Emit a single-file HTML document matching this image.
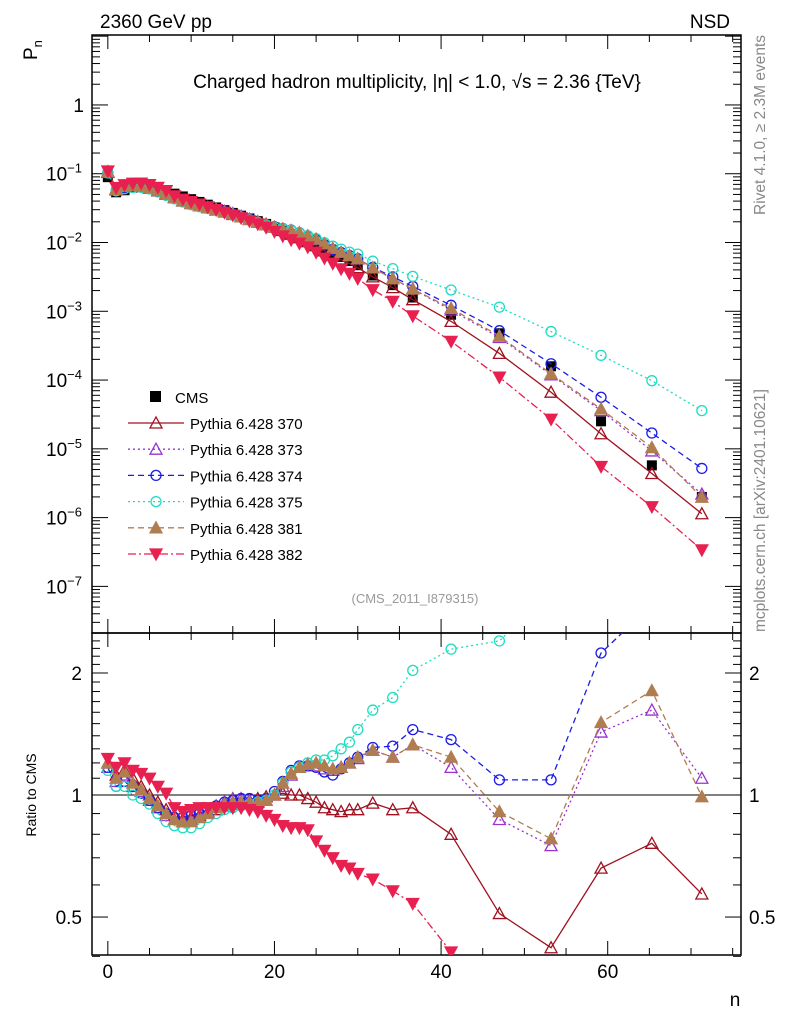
<!DOCTYPE html>
<html><head><meta charset="utf-8"><style>
html,body{margin:0;padding:0;background:#fff;overflow:hidden;width:786px;height:1024px}
svg{display:block}
svg text{font-family:"Liberation Sans",sans-serif}
</style></head><body>
<svg id="c" width="786" height="1024" xmlns="http://www.w3.org/2000/svg">
<text x="100" y="28" font-size="19">2360 GeV pp</text>
<text x="730" y="28" font-size="19" text-anchor="end">NSD</text>
<text transform="translate(37,60) rotate(-90)" font-size="19">P<tspan font-size="13" dy="5">n</tspan></text>
<text x="417" y="88" font-size="19" text-anchor="middle">Charged hadron multiplicity, |η| &lt; 1.0, √s = 2.36 {TeV}</text>
<text transform="translate(765,35) rotate(-90)" font-size="15.5" fill="#888" text-anchor="end">Rivet 4.1.0, ≥ 2.3M events</text>
<text transform="translate(765,632) rotate(-90)" font-size="15.5" fill="#888">mcplots.cern.ch [arXiv:2401.10621]</text>
<text x="415" y="603" font-size="13" fill="#999" text-anchor="middle">(CMS_2011_I879315)</text>
<text transform="translate(36,795) rotate(-90)" font-size="14" text-anchor="middle">Ratio to CMS</text>
<text x="735" y="1006" font-size="19" text-anchor="middle">n</text>
<g id="main"></g>
</svg>
<script>
const nVals=[0,1,2,3,4,5,6,7,8,9,10,11,12,13,14,15,16,17,18,19,20,21,22,23,24,25,26,27,28,29,30,31.8,34.2,36.6,41.2,47,53.2,59.2,65.3,71.3];
const cmsLog=[-1.05,-1.27,-1.24,-1.2,-1.19,-1.2,-1.22,-1.25,-1.29,-1.33,-1.37,-1.41,-1.45,-1.49,-1.53,-1.57,-1.61,-1.65,-1.69,-1.73,-1.78,-1.83,-1.88,-1.93,-1.98,-2.03,-2.09,-2.15,-2.21,-2.27,-2.33,-2.48,-2.62,-2.8,-3.05,-3.32,-3.8,-4.6,-5.24,-5.7];
const r370=[1.2,1.12,1.15,1.1,1.05,1.0,0.96,0.92,0.89,0.87,0.88,0.89,0.91,0.92,0.94,0.95,0.96,0.97,0.98,0.99,1.0,1.01,1.0,1.0,0.98,0.96,0.93,0.92,0.91,0.92,0.92,0.955,0.92,0.93,0.8,0.51,0.42,0.66,0.76,0.57];
const r373=[1.17,1.08,1.12,1.05,1.02,0.97,0.93,0.89,0.87,0.86,0.87,0.88,0.91,0.94,0.96,0.98,0.98,0.97,0.96,0.97,1.0,1.05,1.12,1.17,1.19,1.18,1.16,1.15,1.17,1.2,1.23,1.29,1.24,1.33,1.17,0.87,0.75,1.43,1.62,1.1];
const r374=[1.17,1.05,1.08,1.05,1.01,0.97,0.93,0.9,0.88,0.88,0.89,0.9,0.92,0.94,0.96,0.97,0.98,0.98,0.97,0.98,1.02,1.08,1.15,1.18,1.18,1.17,1.14,1.12,1.16,1.2,1.24,1.31,1.32,1.45,1.37,1.09,1.09,2.24,2.95,2.6];
const r375=[1.15,1.05,1.05,1.0,0.98,0.95,0.9,0.86,0.84,0.83,0.83,0.85,0.88,0.9,0.92,0.93,0.94,0.95,0.96,0.97,1.0,1.07,1.14,1.17,1.2,1.22,1.22,1.25,1.3,1.35,1.45,1.62,1.74,2.03,2.29,2.4,3.2,9.1,17,18];
const r381=[1.2,1.1,1.14,1.07,1.03,0.98,0.94,0.9,0.87,0.86,0.86,0.88,0.9,0.93,0.95,0.96,0.96,0.96,0.96,0.97,1.0,1.07,1.13,1.17,1.19,1.2,1.18,1.16,1.17,1.2,1.24,1.29,1.24,1.33,1.24,0.91,0.78,1.51,1.81,0.99];
const r382=[1.23,1.17,1.2,1.15,1.13,1.1,1.05,1.01,0.93,0.91,0.92,0.93,0.93,0.93,0.93,0.93,0.93,0.92,0.91,0.89,0.87,0.84,0.83,0.83,0.82,0.77,0.73,0.7,0.67,0.66,0.64,0.62,0.58,0.54,0.41,0.23,0.17,0.22,0.25,0.17];
const seriesNames=["Pythia 6.428 370","Pythia 6.428 373","Pythia 6.428 374","Pythia 6.428 375","Pythia 6.428 381","Pythia 6.428 382"];
const yTickExp=[-7,-6,-5,-4,-3,-2,-1,0];
const xTicks=[0,20,40,60];
const rTicks=[0.5,1,2];

const NS="http://www.w3.org/2000/svg";
const g=document.getElementById('main');
const L=92,R=741,T=35,MB=633,RB=955;
const X0=-1.9,X1=76;
const LT=Math.log10(10.4),LB=Math.log10(2.1e-8);
const RT=Math.log2(2.51),RBv=Math.log2(0.403);
const sx=n=>L+(n-X0)/(X1-X0)*(R-L);
const sy=lg=>T+(LT-lg)/(LT-LB)*(MB-T);
const sr=r=>MB+(RT-Math.log2(r))/(RT-RBv)*(RB-MB);
function el(t,a,p){const e=document.createElementNS(NS,t);for(const k in a)e.setAttribute(k,a[k]);(p||g).appendChild(e);return e;}

const defs=el('defs',{});
const cp1=el('clipPath',{id:'cm'},defs);el('rect',{x:L,y:T,width:R-L,height:MB-T},cp1);
const cp2=el('clipPath',{id:'cr'},defs);el('rect',{x:L,y:MB,width:R-L,height:RB-MB},cp2);

const f1=el('rect',{x:L,y:T,width:R-L,height:MB-T,fill:'none',stroke:'#000','stroke-width':1.5});


const f2=el('rect',{x:L,y:MB,width:R-L,height:RB-MB,fill:'none',stroke:'#000','stroke-width':1.5});


const ref=el('line',{x1:L,x2:R,y1:sr(1),y2:sr(1),stroke:'#000','stroke-width':1});



for(let v=0;v<=75;v+=5){
  const big=v%20===0, x=sx(v), len=big?14:7;
  [[T,T+len],[MB,MB-len],[MB,MB+len],[RB,RB-len]].forEach(p=>el('line',{x1:x,x2:x,y1:p[0],y2:p[1],stroke:'#000'}));
}
xTicks.forEach(v=>{const t=el('text',{x:sx(v),y:978,'font-size':19,'text-anchor':'middle'});t.textContent=v;

});
for(let e=-8;e<=1;e++){for(let m=1;m<10;m++){const lg=e+Math.log10(m);if(lg>LT||lg<LB)continue;const y=sy(lg),len=m===1?16:8;
el('line',{x1:L,x2:L+len,y1:y,y2:y,stroke:'#000'});el('line',{x1:R,x2:R-len,y1:y,y2:y,stroke:'#000'});}}
yTickExp.forEach(e=>{const t=el('text',{x:e===0?84:82,y:sy(e)+7,'font-size':19,'text-anchor':'end'});
if(e===0)t.textContent='1';else{t.textContent='10';const s=el('tspan',{dy:-8,'font-size':13},t);s.textContent=String(e).replace('-','−');}

});
for(let v=0.4;v<=2.5;v+=0.1){const y=sr(v);const maj=rTicks.some(t=>Math.abs(t-v)<1e-6);const len=maj?16:8;
el('line',{x1:L,x2:L+len,y1:y,y2:y,stroke:'#000'});el('line',{x1:R,x2:R-len,y1:y,y2:y,stroke:'#000'});}
rTicks.forEach(v=>{[[82,'end'],[749,'start']].forEach(p=>{const t=el('text',{x:p[0],y:sr(v)+7,'font-size':19,'text-anchor':p[1]});t.textContent=v;

});});

const styles=[
 {c:'#a0101e',d:'',m:'tri',fill:'none'},
 {c:'#9a33d0',d:'2,3',m:'tri',fill:'none'},
 {c:'#1c1ce8',d:'6,4',m:'circ',fill:'none'},
 {c:'#20dcc0',d:'2,3',m:'circ',fill:'none'},
 {c:'#b07d50',d:'6,4',m:'tri',fill:'#b07d50'},
 {c:'#e82050',d:'8,3,2,3',m:'dtri',fill:'#e82050'}];
const ratios=[r370,r373,r374,r375,r381,r382];
function marker(p,type,x,y,s){
  if(type==='tri')return el('polygon',{points:`${x},${y-6} ${x-6},${y+5} ${x+6},${y+5}`,fill:s.fill,stroke:s.c,'stroke-width':1.3},p);
  if(type==='dtri')return el('polygon',{points:`${x},${y+6} ${x-6},${y-5} ${x+6},${y-5}`,fill:s.fill,stroke:s.c,'stroke-width':1.3},p);
  return el('circle',{cx:x,cy:y,r:5,fill:'none',stroke:s.c,'stroke-width':1.3},p);
}
const gc=el('g',{'clip-path':'url(#cm)'});


nVals.forEach((n,i)=>el('rect',{x:sx(n)-5,y:sy(cmsLog[i])-5,width:10,height:10,fill:'#000'},gc));
ratios.forEach((r,k)=>{
  const s=styles[k];
  const gm=el('g',{'clip-path':'url(#cm)'});
  
  
  const gr=el('g',{'clip-path':'url(#cr)'});
  
  
  const pm=nVals.map((n,i)=>[sx(n),sy(cmsLog[i]+Math.log10(r[i]))]);
  const pr=nVals.map((n,i)=>[sx(n),sr(r[i])]);
  el('polyline',{points:pm.join(' '),fill:'none',stroke:s.c,'stroke-dasharray':s.d,'stroke-width':1.3},gm);
  el('polyline',{points:pr.join(' '),fill:'none',stroke:s.c,'stroke-dasharray':s.d,'stroke-width':1.3},gr);
  pm.forEach(p=>marker(gm,s.m,p[0],p[1],s));
  pr.forEach(p=>marker(gr,s.m,p[0],p[1],s));
});
const lg=el('g',{});


el('rect',{x:150,y:391,width:11,height:11,fill:'#000'},lg);
const tc=el('text',{x:175,y:403,'font-size':15},lg);tc.textContent='CMS';
seriesNames.forEach((nm,k)=>{const y=423+k*26.2,s=styles[k];
 el('line',{x1:128,x2:184,y1:y,y2:y,stroke:s.c,'stroke-dasharray':s.d,'stroke-width':1.3},lg);
 marker(lg,s.m,156,y,s);
 const t=el('text',{x:190,y:y+6,'font-size':15},lg);t.textContent=nm;
 
 });
</script>
</body></html>
